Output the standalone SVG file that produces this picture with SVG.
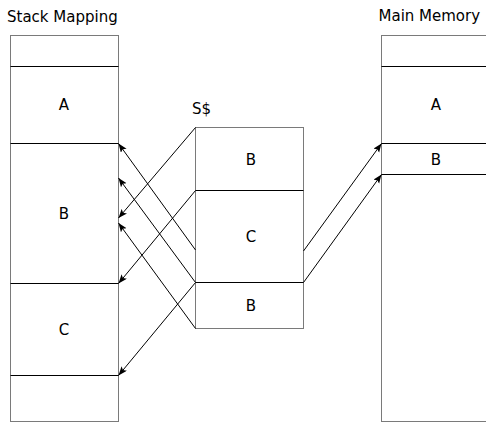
<svg xmlns="http://www.w3.org/2000/svg" width="486" height="424" viewBox="0 0 486 424">
<style>
.box{fill:#fff;stroke:#7a7a7a;stroke-width:1}
.div{stroke:#000;stroke-width:1}
.lbl{font-family:"DejaVu Sans",sans-serif;font-size:15px;fill:#000}
.cell{font-family:"DejaVu Sans",sans-serif;font-size:15px;fill:#000;text-anchor:middle}
.con{stroke:#000;stroke-width:1;fill:none;marker-end:url(#ah)}
</style>
<defs>
<marker id="ah" markerUnits="userSpaceOnUse" markerWidth="10" markerHeight="8" refX="9" refY="3.5" orient="auto">
<path d="M0,0 L9,3.5 L0,7 L2,3.5 z" fill="#000"/>
</marker>
</defs>
<rect width="486" height="424" fill="#fff"/>
<text class="lbl" x="7" y="21.5">Stack Mapping</text>
<text class="lbl" x="378.5" y="21">Main Memory</text>
<text class="lbl" x="192" y="114">S$</text>
<g id="stack">
<rect class="box" x="10.5" y="35.5" width="108" height="386"/>
<line class="div" x1="10.5" y1="66.5" x2="118.5" y2="66.5"/>
<line class="div" x1="10.5" y1="143.5" x2="118.5" y2="143.5"/>
<line class="div" x1="10.5" y1="283.5" x2="118.5" y2="283.5"/>
<line class="div" x1="10.5" y1="375.5" x2="118.5" y2="375.5"/>
<text class="cell" x="64" y="110">A</text>
<text class="cell" x="64" y="219">B</text>
<text class="cell" x="64" y="335">C</text>
</g>
<g id="cache">
<rect class="box" x="195.5" y="127.5" width="108" height="201"/>
<line class="div" x1="195.5" y1="190.5" x2="303.5" y2="190.5"/>
<line class="div" x1="195.5" y1="282.5" x2="303.5" y2="282.5"/>
<text class="cell" x="251" y="164.5">B</text>
<text class="cell" x="251" y="242">C</text>
<text class="cell" x="251" y="311">B</text>
</g>
<g id="memory">
<rect class="box" x="381.5" y="35.5" width="110" height="386"/>
<line class="div" x1="381.5" y1="66.5" x2="491.5" y2="66.5"/>
<line class="div" x1="381.5" y1="143.5" x2="491.5" y2="143.5"/>
<line class="div" x1="381.5" y1="174.5" x2="491.5" y2="174.5"/>
<text class="cell" x="436" y="110">A</text>
<text class="cell" x="436" y="164.5">B</text>
</g>
<g id="connectors">
<line class="con" x1="195.5" y1="250" x2="118.5" y2="143.5"/>
<line class="con" x1="195.5" y1="282.5" x2="118.5" y2="178"/>
<line class="con" x1="195.5" y1="127.5" x2="118.5" y2="218"/>
<line class="con" x1="195.5" y1="190.5" x2="118.5" y2="283.5"/>
<line class="con" x1="195.5" y1="328.5" x2="118.5" y2="223"/>
<line class="con" x1="195.5" y1="282.5" x2="118.5" y2="375.5"/>
<line class="con" x1="303.5" y1="251" x2="381.5" y2="143.5"/>
<line class="con" x1="303.5" y1="282.5" x2="381.5" y2="174.5"/>
</g>
</svg>
